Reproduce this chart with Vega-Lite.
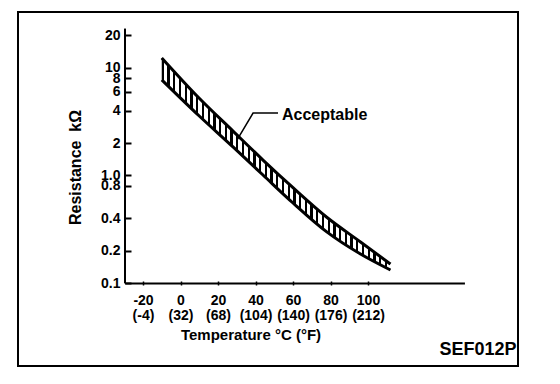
{
  "$schema": "https://vega.github.io/schema/vega-lite/v6.json",
  "width": 500,
  "height": 354,
  "autosize": {"type": "none"},
  "padding": {"left": 18, "top": 12, "right": 42, "bottom": 18},
  "background": "white",
  "config": {
    "font": "Liberation Sans",
    "view": {"stroke": "black", "strokeWidth": 2},
    "axis": {"grid": false, "domain": false, "labelColor": "black", "titleColor": "black", "tickColor": "black", "labelFont": "Liberation Sans", "titleFont": "Liberation Sans", "titleFontWeight": "bold", "labelFontWeight": "bold"}
  },
  "datasets": {
    "band": [
      {"t": -10, "r": 12.3, "lo": 7.7},
      {"t": 10, "r": 5.2, "lo": 3.56},
      {"t": 28, "r": 2.58, "lo": 1.84},
      {"t": 44, "r": 1.39, "lo": 1.01},
      {"t": 60, "r": 0.77, "lo": 0.556},
      {"t": 78, "r": 0.41, "lo": 0.30},
      {"t": 96, "r": 0.242, "lo": 0.187},
      {"t": 112, "r": 0.151, "lo": 0.133}
    ],
    "lower": [
      {"t": -10, "r": 7.7},
      {"t": 10, "r": 3.56},
      {"t": 28, "r": 1.84},
      {"t": 44, "r": 1.01},
      {"t": 60, "r": 0.556},
      {"t": 78, "r": 0.30},
      {"t": 96, "r": 0.187},
      {"t": 112, "r": 0.133}
    ],
    "leader": [
      {"t": 52.0, "r": 3.79, "o": 1},
      {"t": 38.7, "r": 3.79, "o": 2},
      {"t": 30.1, "r": 2.13, "o": 3}
    ],
    "yline": [{"t": -29.6, "r": 0.1, "r2": 23}],
    "xline": [{"t": -29.6, "t2": 151.7, "r": 0.1}],
    "note": [{"t": 54.1, "r": 3.64, "text": "Acceptable"}],
    "code": [{"t": 179.2, "r": 0.0241, "text": "SEF012P"}]
  },
  "encoding": {
    "x": {
      "field": "t", "type": "quantitative",
      "scale": {"domain": [-86.67, 180], "nice": false, "zero": false},
      "axis": {
        "values": [-20, 0, 20, 40, 60, 80, 100],
        "offset": -81,
        "tickSize": -4,
        "tickWidth": 1.5,
        "labelPadding": 12,
        "labelFontSize": 14,
        "labelLineHeight": 15,
        "labelFlush": false,
        "labelOverlap": false,
        "labelExpr": "['' + datum.value, '(' + (datum.value * 9 / 5 + 32) + ')']",
        "title": "Temperature °C (°F)",
        "titleFontSize": 15,
        "titleX": 232.5,
        "titleY": 49,
        "titleBaseline": "middle",
        "titleAlign": "center"
      }
    },
    "y": {
      "field": "r", "type": "quantitative",
      "scale": {"type": "log", "domain": [0.017155, 32.75], "nice": false},
      "axis": {
        "values": [0.1, 0.2, 0.4, 0.8, 1, 2, 4, 6, 8, 10, 20],
        "offset": -107,
        "tickSize": -6,
        "tickWidth": 2,
        "labelPadding": 11,
        "labelFontSize": 14,
        "labelFlush": false,
        "labelOverlap": false,
        "labelExpr": "datum.value == 1 ? '1.0' : '' + datum.value",
        "title": "Resistance\u00a0\u00a0kΩ",
        "titleFontSize": 16,
        "titleAngle": 270,
        "titleX": -50,
        "titleY": 155,
        "titleBaseline": "middle",
        "titleAlign": "center"
      }
    }
  },
  "layer": [
    {
      "data": {"name": "band"},
      "mark": {
        "type": "area",
        "interpolate": "monotone",
        "fill": {
          "gradient": "linear", "x1": 0, "y1": 0, "x2": 1, "y2": 0,
          "stops": [
            {"offset": 0, "color": "#000"}, {"offset": 0.01, "color": "#000"}, {"offset": 0.01, "color": "#fff"}, {"offset": 0.025, "color": "#fff"},
            {"offset": 0.025, "color": "#000"}, {"offset": 0.035, "color": "#000"}, {"offset": 0.035, "color": "#fff"}, {"offset": 0.05, "color": "#fff"},
            {"offset": 0.05, "color": "#000"}, {"offset": 0.06, "color": "#000"}, {"offset": 0.06, "color": "#fff"}, {"offset": 0.075, "color": "#fff"},
            {"offset": 0.075, "color": "#000"}, {"offset": 0.085, "color": "#000"}, {"offset": 0.085, "color": "#fff"}, {"offset": 0.1, "color": "#fff"},
            {"offset": 0.1, "color": "#000"}, {"offset": 0.11, "color": "#000"}, {"offset": 0.11, "color": "#fff"}, {"offset": 0.125, "color": "#fff"},
            {"offset": 0.125, "color": "#000"}, {"offset": 0.135, "color": "#000"}, {"offset": 0.135, "color": "#fff"}, {"offset": 0.15, "color": "#fff"},
            {"offset": 0.15, "color": "#000"}, {"offset": 0.16, "color": "#000"}, {"offset": 0.16, "color": "#fff"}, {"offset": 0.175, "color": "#fff"},
            {"offset": 0.175, "color": "#000"}, {"offset": 0.185, "color": "#000"}, {"offset": 0.185, "color": "#fff"}, {"offset": 0.2, "color": "#fff"},
            {"offset": 0.2, "color": "#000"}, {"offset": 0.21, "color": "#000"}, {"offset": 0.21, "color": "#fff"}, {"offset": 0.225, "color": "#fff"},
            {"offset": 0.225, "color": "#000"}, {"offset": 0.235, "color": "#000"}, {"offset": 0.235, "color": "#fff"}, {"offset": 0.25, "color": "#fff"},
            {"offset": 0.25, "color": "#000"}, {"offset": 0.26, "color": "#000"}, {"offset": 0.26, "color": "#fff"}, {"offset": 0.275, "color": "#fff"},
            {"offset": 0.275, "color": "#000"}, {"offset": 0.285, "color": "#000"}, {"offset": 0.285, "color": "#fff"}, {"offset": 0.3, "color": "#fff"},
            {"offset": 0.3, "color": "#000"}, {"offset": 0.31, "color": "#000"}, {"offset": 0.31, "color": "#fff"}, {"offset": 0.325, "color": "#fff"},
            {"offset": 0.325, "color": "#000"}, {"offset": 0.335, "color": "#000"}, {"offset": 0.335, "color": "#fff"}, {"offset": 0.35, "color": "#fff"},
            {"offset": 0.35, "color": "#000"}, {"offset": 0.36, "color": "#000"}, {"offset": 0.36, "color": "#fff"}, {"offset": 0.375, "color": "#fff"},
            {"offset": 0.375, "color": "#000"}, {"offset": 0.385, "color": "#000"}, {"offset": 0.385, "color": "#fff"}, {"offset": 0.4, "color": "#fff"},
            {"offset": 0.4, "color": "#000"}, {"offset": 0.41, "color": "#000"}, {"offset": 0.41, "color": "#fff"}, {"offset": 0.425, "color": "#fff"},
            {"offset": 0.425, "color": "#000"}, {"offset": 0.435, "color": "#000"}, {"offset": 0.435, "color": "#fff"}, {"offset": 0.45, "color": "#fff"},
            {"offset": 0.45, "color": "#000"}, {"offset": 0.46, "color": "#000"}, {"offset": 0.46, "color": "#fff"}, {"offset": 0.475, "color": "#fff"},
            {"offset": 0.475, "color": "#000"}, {"offset": 0.485, "color": "#000"}, {"offset": 0.485, "color": "#fff"}, {"offset": 0.5, "color": "#fff"},
            {"offset": 0.5, "color": "#000"}, {"offset": 0.51, "color": "#000"}, {"offset": 0.51, "color": "#fff"}, {"offset": 0.525, "color": "#fff"},
            {"offset": 0.525, "color": "#000"}, {"offset": 0.535, "color": "#000"}, {"offset": 0.535, "color": "#fff"}, {"offset": 0.55, "color": "#fff"},
            {"offset": 0.55, "color": "#000"}, {"offset": 0.56, "color": "#000"}, {"offset": 0.56, "color": "#fff"}, {"offset": 0.575, "color": "#fff"},
            {"offset": 0.575, "color": "#000"}, {"offset": 0.585, "color": "#000"}, {"offset": 0.585, "color": "#fff"}, {"offset": 0.6, "color": "#fff"},
            {"offset": 0.6, "color": "#000"}, {"offset": 0.61, "color": "#000"}, {"offset": 0.61, "color": "#fff"}, {"offset": 0.625, "color": "#fff"},
            {"offset": 0.625, "color": "#000"}, {"offset": 0.635, "color": "#000"}, {"offset": 0.635, "color": "#fff"}, {"offset": 0.65, "color": "#fff"},
            {"offset": 0.65, "color": "#000"}, {"offset": 0.66, "color": "#000"}, {"offset": 0.66, "color": "#fff"}, {"offset": 0.675, "color": "#fff"},
            {"offset": 0.675, "color": "#000"}, {"offset": 0.685, "color": "#000"}, {"offset": 0.685, "color": "#fff"}, {"offset": 0.7, "color": "#fff"},
            {"offset": 0.7, "color": "#000"}, {"offset": 0.71, "color": "#000"}, {"offset": 0.71, "color": "#fff"}, {"offset": 0.725, "color": "#fff"},
            {"offset": 0.725, "color": "#000"}, {"offset": 0.735, "color": "#000"}, {"offset": 0.735, "color": "#fff"}, {"offset": 0.75, "color": "#fff"},
            {"offset": 0.75, "color": "#000"}, {"offset": 0.76, "color": "#000"}, {"offset": 0.76, "color": "#fff"}, {"offset": 0.775, "color": "#fff"},
            {"offset": 0.775, "color": "#000"}, {"offset": 0.785, "color": "#000"}, {"offset": 0.785, "color": "#fff"}, {"offset": 0.8, "color": "#fff"},
            {"offset": 0.8, "color": "#000"}, {"offset": 0.81, "color": "#000"}, {"offset": 0.81, "color": "#fff"}, {"offset": 0.825, "color": "#fff"},
            {"offset": 0.825, "color": "#000"}, {"offset": 0.835, "color": "#000"}, {"offset": 0.835, "color": "#fff"}, {"offset": 0.85, "color": "#fff"},
            {"offset": 0.85, "color": "#000"}, {"offset": 0.86, "color": "#000"}, {"offset": 0.86, "color": "#fff"}, {"offset": 0.875, "color": "#fff"},
            {"offset": 0.875, "color": "#000"}, {"offset": 0.885, "color": "#000"}, {"offset": 0.885, "color": "#fff"}, {"offset": 0.9, "color": "#fff"},
            {"offset": 0.9, "color": "#000"}, {"offset": 0.91, "color": "#000"}, {"offset": 0.91, "color": "#fff"}, {"offset": 0.925, "color": "#fff"},
            {"offset": 0.925, "color": "#000"}, {"offset": 0.935, "color": "#000"}, {"offset": 0.935, "color": "#fff"}, {"offset": 0.95, "color": "#fff"},
            {"offset": 0.95, "color": "#000"}, {"offset": 0.96, "color": "#000"}, {"offset": 0.96, "color": "#fff"}, {"offset": 0.975, "color": "#fff"},
            {"offset": 0.975, "color": "#000"}, {"offset": 0.985, "color": "#000"}, {"offset": 0.985, "color": "#fff"}, {"offset": 1, "color": "#fff"}
          ]
        }
      },
      "encoding": {"y2": {"field": "lo"}}
    },
    {
      "data": {"name": "band"},
      "mark": {"type": "line", "stroke": "black", "strokeWidth": 3, "interpolate": "monotone"}
    },
    {
      "data": {"name": "lower"},
      "mark": {"type": "line", "stroke": "black", "strokeWidth": 3, "interpolate": "monotone"}
    },
    {
      "data": {"name": "yline"},
      "mark": {"type": "rule", "stroke": "black", "strokeWidth": 2},
      "encoding": {"y2": {"field": "r2"}}
    },
    {
      "data": {"name": "xline"},
      "mark": {"type": "rule", "stroke": "black", "strokeWidth": 2},
      "encoding": {"x2": {"field": "t2"}}
    },
    {
      "data": {"name": "leader"},
      "mark": {"type": "line", "stroke": "black", "strokeWidth": 1.5},
      "encoding": {"order": {"field": "o"}}
    },
    {
      "data": {"name": "note"},
      "mark": {"type": "text", "align": "left", "baseline": "middle", "fontSize": 16, "fontWeight": "bold", "font": "Liberation Sans", "color": "black"},
      "encoding": {"text": {"field": "text"}}
    },
    {
      "data": {"name": "code"},
      "mark": {"type": "text", "align": "right", "baseline": "middle", "fontSize": 18, "fontWeight": "bold", "font": "Liberation Sans", "color": "black"},
      "encoding": {"text": {"field": "text"}}
    }
  ]
}
